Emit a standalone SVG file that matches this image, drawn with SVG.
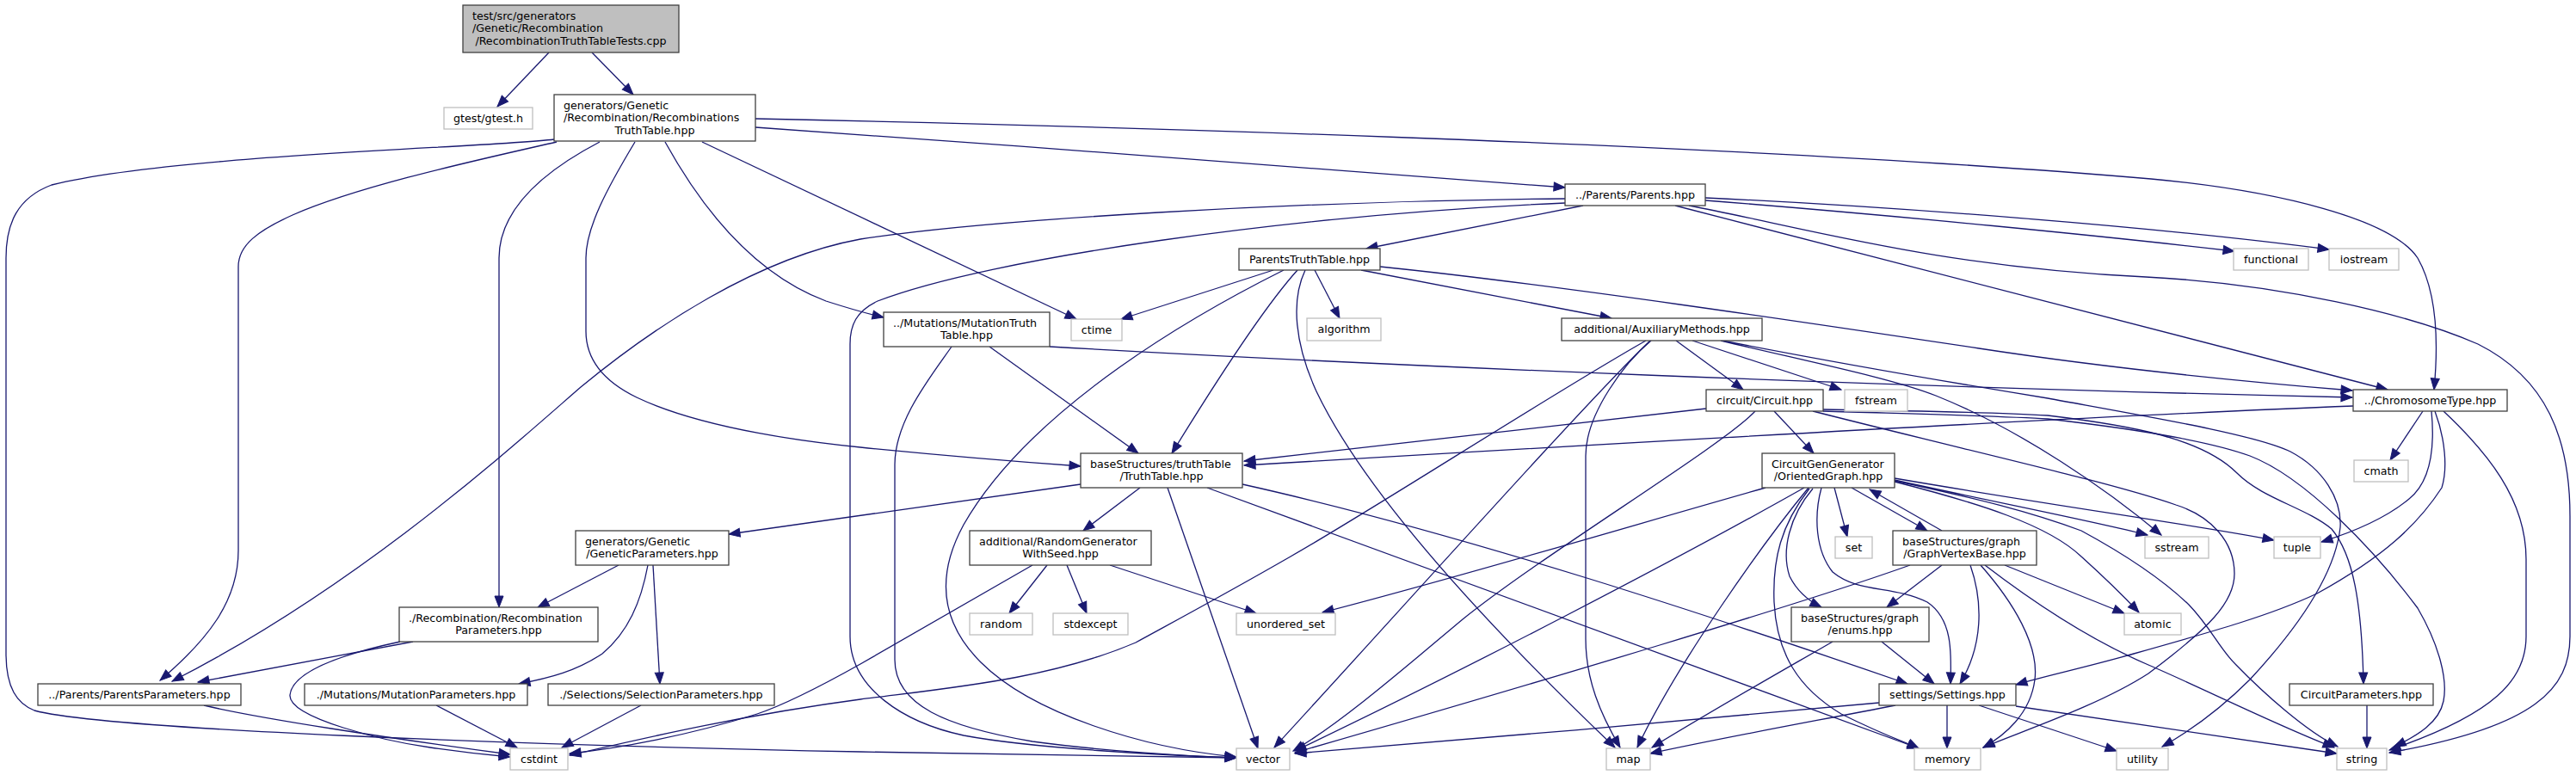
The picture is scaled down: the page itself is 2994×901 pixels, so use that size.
<svg xmlns="http://www.w3.org/2000/svg" width="2994" height="901" viewBox="0 0 2994 901">
<style>
.n rect{fill:#ffffff;stroke:#404040;stroke-width:1.3}
.x rect{fill:#ffffff;stroke:#bfbfbf;stroke-width:1.3}
.r rect{fill:#bfbfbf;stroke:#404040;stroke-width:1.3}
text{font-family:"DejaVu Sans","Liberation Sans",sans-serif;font-size:12.67px;fill:#000000}
.c{text-anchor:middle}
.e path{fill:none;stroke:#191970;stroke-width:1.3;marker-end:url(#ah)}
</style>
<defs>
<marker id="ah" markerUnits="userSpaceOnUse" markerWidth="16" markerHeight="12" refX="13" refY="5" orient="auto" overflow="visible"><path d="M0,0 L13,5 L0,10 z" fill="#191970" stroke="#191970" stroke-width="1"/></marker>
</defs>
<rect width="2994" height="901" fill="#ffffff"/>
<g id="edges" class="e">
<path d="M638,61 L578,124"/>
<path d="M688,61 L736,110"/>
<path d="M644,162 C560,172 200,180 60,215 C20,230 7,260 7,300 L7,760 C7,800 20,818 40,826 C120,848 600,866 1000,874 C1200,878 1350,880 1437,881"/>
<path d="M647,165 C560,185 420,215 340,250 C300,268 277,285 277,310 L277,640 C277,700 240,745 186,791"/>
<path d="M697,165 C630,200 580,245 580,300 L580,706"/>
<path d="M738,165 C705,220 681,265 681,300 L681,385 C681,420 705,445 740,462 C820,500 950,515 1000,520 C1100,530 1200,538 1256,542"/>
<path d="M773,165 C820,250 880,320 960,350 C985,358 1005,364 1027,369"/>
<path d="M816,165 L1251,371"/>
<path d="M878,138 C1200,145 2000,165 2500,208 C2650,222 2780,255 2810,300 C2830,335 2835,390 2829,453"/>
<path d="M878,148 C1200,170 1600,202 1819,218"/>
<path d="M1840,239 L1588,289"/>
<path d="M1819,231 C1500,234 1150,255 1000,278 C880,300 760,380 675,450 C600,515 420,680 200,792"/>
<path d="M1819,236 C1500,250 1150,300 1020,350 C995,362 988,378 988,400 L988,740 C988,800 1050,840 1120,855 C1200,870 1350,878 1437,881"/>
<path d="M1982,230 C2200,240 2500,263 2707,290"/>
<path d="M1982,233 C2200,250 2450,275 2597,292"/>
<path d="M1963,239 C2100,265 2250,310 2494,322 C2650,330 2800,365 2880,400 C2960,440 2987,510 2987,600 L2987,740 C2987,800 2948,845 2777,875"/>
<path d="M1947,239 L2775,453"/>
<path d="M1480,314 L1303,371"/>
<path d="M1492,314 C1400,360 1200,470 1120,610 C1090,665 1090,720 1140,770 C1200,830 1330,870 1437,880"/>
<path d="M1508,314 C1480,345 1440,400 1362,527"/>
<path d="M1517,314 C1500,350 1505,400 1530,455 C1580,560 1700,700 1877,869"/>
<path d="M1528,314 L1557,370"/>
<path d="M1582,314 L1873,370"/>
<path d="M1604,310 C1800,330 2100,375 2300,405 C2450,428 2600,443 2734,454"/>
<path d="M1106,403 C1080,440 1040,490 1040,540 L1040,767 C1040,820 1100,845 1200,862 C1280,873 1380,879 1437,881"/>
<path d="M1150,403 L1323,527"/>
<path d="M1220,403 C1600,425 2200,450 2734,462"/>
<path d="M1256,563 L847,621"/>
<path d="M1325,567 L1259,617"/>
<path d="M1357,567 L1462,870"/>
<path d="M1403,567 L2230,870"/>
<path d="M1444,563 C1700,620 2000,720 2217,795"/>
<path d="M719,657 L625,706"/>
<path d="M753,657 C745,700 730,735 700,760 C670,780 640,788 603,795"/>
<path d="M759,657 L767,795"/>
<path d="M1217,657 L1173,713"/>
<path d="M1240,657 L1263,713"/>
<path d="M1290,657 L1460,713"/>
<path d="M1200,657 L1000,772 C950,800 910,820 880,830 C800,855 720,870 662,876"/>
<path d="M480,746 L230,793"/>
<path d="M465,746 C400,760 340,780 337,808 C335,835 450,862 500,869 C540,875 570,878 593,880"/>
<path d="M507,820 L601,869"/>
<path d="M745,820 L653,869"/>
<path d="M237,820 C300,835 450,858 593,877"/>
<path d="M1983,475 L1446,536"/>
<path d="M2735,472 C2400,485 1800,520 1446,541"/>
<path d="M2040,478 C2000,520 1800,640 1700,720 C1640,770 1560,840 1503,873"/>
<path d="M2062,478 L2108,527"/>
<path d="M2107,478 C2300,527 2450,560 2529,587 C2570,600 2597,630 2597,667 C2597,700 2568,730 2497,783 C2440,820 2350,850 2305,869"/>
<path d="M2119,476 C2250,478 2330,480 2380,483 C2480,495 2560,510 2600,550 C2630,580 2680,590 2710,615 C2735,645 2745,700 2747,795"/>
<path d="M2119,478 C2250,482 2330,484 2380,487 C2450,495 2560,510 2615,530 C2680,555 2760,640 2810,707 C2835,750 2845,790 2840,815 C2835,840 2810,855 2783,868"/>
<path d="M1948,396 L2026,453"/>
<path d="M1967,396 L2140,453"/>
<path d="M2000,396 C2100,420 2200,440 2250,460 C2350,500 2450,570 2512,622"/>
<path d="M2002,396 C2150,425 2300,450 2380,463 C2500,485 2620,505 2662,525 C2700,545 2722,580 2720,613 C2715,660 2680,720 2615,790 C2580,825 2545,850 2513,868"/>
<path d="M1919,396 C1890,420 1843,480 1843,530 L1843,743 C1843,790 1860,830 1883,869"/>
<path d="M1918,396 C1850,460 1600,740 1481,869"/>
<path d="M1913,396 C1800,460 1600,590 1500,647 C1420,693 1360,725 1320,747 C1220,790 1100,800 1000,813 C850,833 720,865 662,878"/>
<path d="M2052,567 C1900,610 1700,670 1537,712"/>
<path d="M2097,567 C1950,650 1700,780 1505,873"/>
<path d="M2102,567 C2050,630 1950,770 1903,869"/>
<path d="M2103,568 C2070,610 2060,650 2062,700 C2065,760 2090,800 2140,830 C2190,855 2220,865 2230,870"/>
<path d="M2107,568 C2080,600 2070,640 2080,670 C2090,690 2105,700 2117,706"/>
<path d="M2117,567 C2108,600 2110,640 2130,665 C2160,690 2200,680 2240,700 C2270,720 2268,760 2267,795"/>
<path d="M2132,567 L2147,624"/>
<path d="M2152,567 L2240,617"/>
<path d="M2257,617 L2173,569"/>
<path d="M2202,558 C2300,580 2430,605 2496,622"/>
<path d="M2202,556 C2400,590 2550,610 2643,628"/>
<path d="M2202,560 C2300,585 2380,610 2419,647 C2450,675 2470,695 2486,712"/>
<path d="M2202,559 C2300,580 2360,595 2419,617 C2480,650 2520,680 2544,703 C2570,730 2580,755 2599,773 C2630,805 2680,850 2717,868"/>
<path d="M2220,657 C2100,700 1800,790 1505,875"/>
<path d="M2257,657 L2193,706"/>
<path d="M2290,657 C2305,700 2305,750 2278,795"/>
<path d="M2302,657 C2340,700 2370,750 2365,790 C2360,830 2330,855 2305,869"/>
<path d="M2330,657 L2469,713"/>
<path d="M2307,657 C2350,690 2420,740 2497,773 C2560,800 2650,845 2713,869"/>
<path d="M2187,746 L2248,795"/>
<path d="M2130,746 C2080,775 2000,820 1920,869"/>
<path d="M2184,817 C2000,835 1700,860 1505,876"/>
<path d="M2203,820 C2100,840 2000,858 1918,876"/>
<path d="M2263,820 L2263,870"/>
<path d="M2300,820 L2460,873"/>
<path d="M2343,821 C2500,843 2620,862 2716,876"/>
<path d="M2751,820 L2751,870"/>
<path d="M2816,478 L2778,535"/>
<path d="M2826,478 C2830,520 2825,560 2800,580 C2770,605 2730,620 2698,630"/>
<path d="M2830,478 C2842,510 2845,545 2838,567 C2810,610 2771,647 2693,690 C2640,715 2576,733 2480,760 C2420,777 2380,785 2343,796"/>
<path d="M2840,478 C2890,525 2936,580 2936,650 L2936,740 C2936,790 2900,830 2777,872"/>
</g>
<g id="root" class="r"><rect x="538" y="6" width="251" height="55"/><text x="549" y="22.5">test/src/generators</text><text x="549" y="37">/Genetic/Recombination</text><text x="663.5" y="51.5" class="c">/RecombinationTruthTableTests.cpp</text></g>
<g id="gtest" class="x"><rect x="516" y="125" width="103" height="25"/><text x="567.5" y="141.5" class="c">gtest/gtest.h</text></g>
<g id="rtt" class="n"><rect x="644" y="110" width="234" height="54"/><text x="655" y="126.5">generators/Genetic</text><text x="655" y="141">/Recombination/Recombinations</text><text x="761" y="155.5" class="c">TruthTable.hpp</text></g>
<g id="muttt" class="n"><rect x="1027" y="363" width="193" height="40"/><text x="1038" y="379.5">../Mutations/MutationTruth</text><text x="1123.5" y="394" class="c">Table.hpp</text></g>
<g id="ctime" class="x"><rect x="1245" y="371" width="59" height="25"/><text x="1274.5" y="387.5" class="c">ctime</text></g>
<g id="ptt" class="n"><rect x="1440" y="289" width="164" height="25"/><text x="1522" y="305.5" class="c">ParentsTruthTable.hpp</text></g>
<g id="parents" class="n"><rect x="1819" y="214" width="163" height="25"/><text x="1900.5" y="230.5" class="c">../Parents/Parents.hpp</text></g>
<g id="algorithm" class="x"><rect x="1519" y="370" width="86" height="26"/><text x="1562" y="387" class="c">algorithm</text></g>
<g id="aux" class="n"><rect x="1815" y="370" width="233" height="26"/><text x="1931.5" y="387" class="c">additional/AuxiliaryMethods.hpp</text></g>
<g id="functional" class="x"><rect x="2596" y="289" width="87" height="25"/><text x="2639.5" y="305.5" class="c">functional</text></g>
<g id="iostream" class="x"><rect x="2707" y="289" width="81" height="25"/><text x="2747.5" y="305.5" class="c">iostream</text></g>
<g id="chromosome" class="n"><rect x="2735" y="453" width="179" height="25"/><text x="2824.5" y="469.5" class="c">../ChromosomeType.hpp</text></g>
<g id="circuit" class="n"><rect x="1983" y="453" width="136" height="25"/><text x="2051" y="469.5" class="c">circuit/Circuit.hpp</text></g>
<g id="fstream" class="x"><rect x="2144" y="453" width="73" height="25"/><text x="2180.5" y="469.5" class="c">fstream</text></g>
<g id="orientedgraph" class="n"><rect x="2048" y="527" width="154" height="40"/><text x="2059" y="543.5">CircuitGenGenerator</text><text x="2125" y="558" class="c">/OrientedGraph.hpp</text></g>
<g id="cmath" class="x"><rect x="2736" y="535" width="63" height="25"/><text x="2767.5" y="551.5" class="c">cmath</text></g>
<g id="truthtable" class="n"><rect x="1256" y="527" width="188" height="40"/><text x="1267" y="543.5">baseStructures/truthTable</text><text x="1350" y="558" class="c">/TruthTable.hpp</text></g>
<g id="set" class="x"><rect x="2133" y="624" width="43" height="25"/><text x="2154.5" y="640.5" class="c">set</text></g>
<g id="graphvertexbase" class="n"><rect x="2200" y="617" width="167" height="40"/><text x="2211" y="633.5">baseStructures/graph</text><text x="2283.5" y="648" class="c">/GraphVertexBase.hpp</text></g>
<g id="sstream" class="x"><rect x="2493" y="624" width="74" height="25"/><text x="2530" y="640.5" class="c">sstream</text></g>
<g id="tuple" class="x"><rect x="2643" y="624" width="54" height="25"/><text x="2670" y="640.5" class="c">tuple</text></g>
<g id="geneticparams" class="n"><rect x="669" y="617" width="178" height="40"/><text x="680" y="633.5">generators/Genetic</text><text x="758" y="648" class="c">/GeneticParameters.hpp</text></g>
<g id="randomgen" class="n"><rect x="1127" y="617" width="211" height="40"/><text x="1138" y="633.5">additional/RandomGenerator</text><text x="1232.5" y="648" class="c">WithSeed.hpp</text></g>
<g id="recombparams" class="n"><rect x="464" y="706" width="231" height="40"/><text x="475" y="722.5">./Recombination/Recombination</text><text x="579.5" y="737" class="c">Parameters.hpp</text></g>
<g id="enums" class="n"><rect x="2082" y="706" width="160" height="40"/><text x="2093" y="722.5">baseStructures/graph</text><text x="2162" y="737" class="c">/enums.hpp</text></g>
<g id="random" class="x"><rect x="1127" y="713" width="73" height="25"/><text x="1163.5" y="729.5" class="c">random</text></g>
<g id="stdexcept" class="x"><rect x="1224" y="713" width="87" height="25"/><text x="1267.5" y="729.5" class="c">stdexcept</text></g>
<g id="unordered_set" class="x"><rect x="1437" y="713" width="115" height="25"/><text x="1494.5" y="729.5" class="c">unordered_set</text></g>
<g id="atomic" class="x"><rect x="2469" y="713" width="66" height="25"/><text x="2502" y="729.5" class="c">atomic</text></g>
<g id="parentsparams" class="n"><rect x="44" y="795" width="236" height="25"/><text x="162" y="811.5" class="c">../Parents/ParentsParameters.hpp</text></g>
<g id="mutparams" class="n"><rect x="354" y="795" width="259" height="25"/><text x="483.5" y="811.5" class="c">./Mutations/MutationParameters.hpp</text></g>
<g id="selparams" class="n"><rect x="637" y="795" width="263" height="25"/><text x="768.5" y="811.5" class="c">./Selections/SelectionParameters.hpp</text></g>
<g id="settings" class="n"><rect x="2184" y="795" width="159" height="25"/><text x="2263.5" y="811.5" class="c">settings/Settings.hpp</text></g>
<g id="circuitparams" class="n"><rect x="2661" y="795" width="167" height="25"/><text x="2744.5" y="811.5" class="c">CircuitParameters.hpp</text></g>
<g id="cstdint" class="x"><rect x="593" y="870" width="67" height="25"/><text x="626.5" y="886.5" class="c">cstdint</text></g>
<g id="vector" class="x"><rect x="1437" y="870" width="62" height="25"/><text x="1468" y="886.5" class="c">vector</text></g>
<g id="map" class="x"><rect x="1867" y="870" width="51" height="25"/><text x="1892.5" y="886.5" class="c">map</text></g>
<g id="memory" class="x"><rect x="2225" y="870" width="77" height="25"/><text x="2263.5" y="886.5" class="c">memory</text></g>
<g id="utility" class="x"><rect x="2460" y="870" width="60" height="25"/><text x="2490" y="886.5" class="c">utility</text></g>
<g id="string" class="x"><rect x="2716" y="870" width="58" height="25"/><text x="2745" y="886.5" class="c">string</text></g>
</svg>
